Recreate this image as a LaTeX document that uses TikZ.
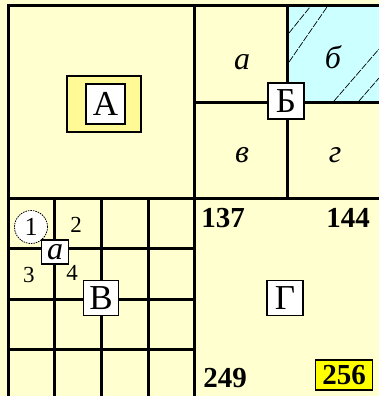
\documentclass[tikz,border=0pt]{standalone}
\usepackage{fontspec}
\setmainfont{Liberation Serif}
\definecolor{bgyel}{RGB}{255,255,208}
\definecolor{boxyel}{RGB}{255,250,150}
\definecolor{cyanfill}{RGB}{204,255,255}
\definecolor{hiyel}{RGB}{255,255,0}
\tikzset{
  grid line/.style={line width=3pt},
  letterbox/.style={draw, line width=1.3pt, fill=white, inner sep=0pt, font=\fontsize{35}{35}\selectfont},
  ital/.style={inner sep=0pt, font=\fontsize{32}{32}\selectfont\itshape},
  bnum/.style={inner sep=0pt, font=\fontsize{29}{29}\selectfont\bfseries},
  snum/.style={inner sep=0pt, font=\fontsize{23}{23}\selectfont},
  hatch/.style={line width=0.7pt, dash pattern=on 7pt off 1.5pt}
}
\begin{document}
\begin{tikzpicture}[x=1pt,y=-1pt]
\useasboundingbox (0,0) rectangle (379,396);
\fill[bgyel] (0,0) rectangle (379,396);
% cyan region
\fill[cyanfill] (287,6) rectangle (379,102);
\draw[hatch] (289,33) -- (310,7);
\draw[hatch] (289,62) -- (327,7);
\draw[hatch] (334,101) -- (379,49);
\draw[hatch] (359,101) -- (379,78);
% main lines
\draw[grid line] (379,6) -- (8,6) -- (8,396);
\draw[grid line] (194,6) -- (194,396);
\draw[grid line] (8,198) -- (379,198);
\draw[grid line] (287,6) -- (287,198);
\draw[grid line] (194,102) -- (379,102);
% lower-left grid
\foreach \xx in {54,101,148} \draw[grid line] (\xx,198) -- (\xx,396);
\foreach \yy in {248,299,349} \draw[grid line] (8,\yy) -- (194,\yy);
% box A
\node[draw, line width=1.3pt, fill=boxyel, minimum width=74pt, minimum height=56pt] (Aouter) at (104,104) {};
\node[letterbox, minimum width=39pt, minimum height=40pt] (A) at (105.5,104) {А};
% box B (Б)
\node[letterbox, minimum width=36pt, minimum height=36pt] (Bb) at (286,101) {Б};
\node[ital] (a1) at (242,62) {а};
\node[ital] (b1) at (333,57) {б};
\node[ital] (v1) at (242,155) {в};
\node[ital] (g1) at (335,155) {г};
% box V (В)
\node[letterbox, minimum width=35pt, minimum height=35pt] (Vv) at (101,298) {В};
\node[draw, line width=0.8pt, dash pattern=on 1.5pt off 1pt, fill=white, circle, minimum size=33pt, inner sep=0pt, font=\fontsize{26}{26}\selectfont] (c1) at (31,227) {1};
\node[snum] (n2) at (76,225) {2};
\node[snum] (n3) at (29,275) {3};
\node[snum] (n4) at (72,273) {4};
\node[letterbox, minimum width=27pt, minimum height=24pt, font=\fontsize{32}{32}\selectfont\itshape] (a2) at (55,252) {а};
% box G (Г)
\node[letterbox, minimum width=36pt, minimum height=35pt] (Gg) at (285,298) {Г};
\node[bnum] (n137) at (223,218) {137};
\node[bnum] (n144) at (348,218) {144};
\node[bnum] (n249) at (225,378) {249};
\node[bnum, draw, line width=1.3pt, fill=hiyel, minimum width=57pt, minimum height=30pt] (n256) at (344,375) {256};
\end{tikzpicture}
\end{document}
